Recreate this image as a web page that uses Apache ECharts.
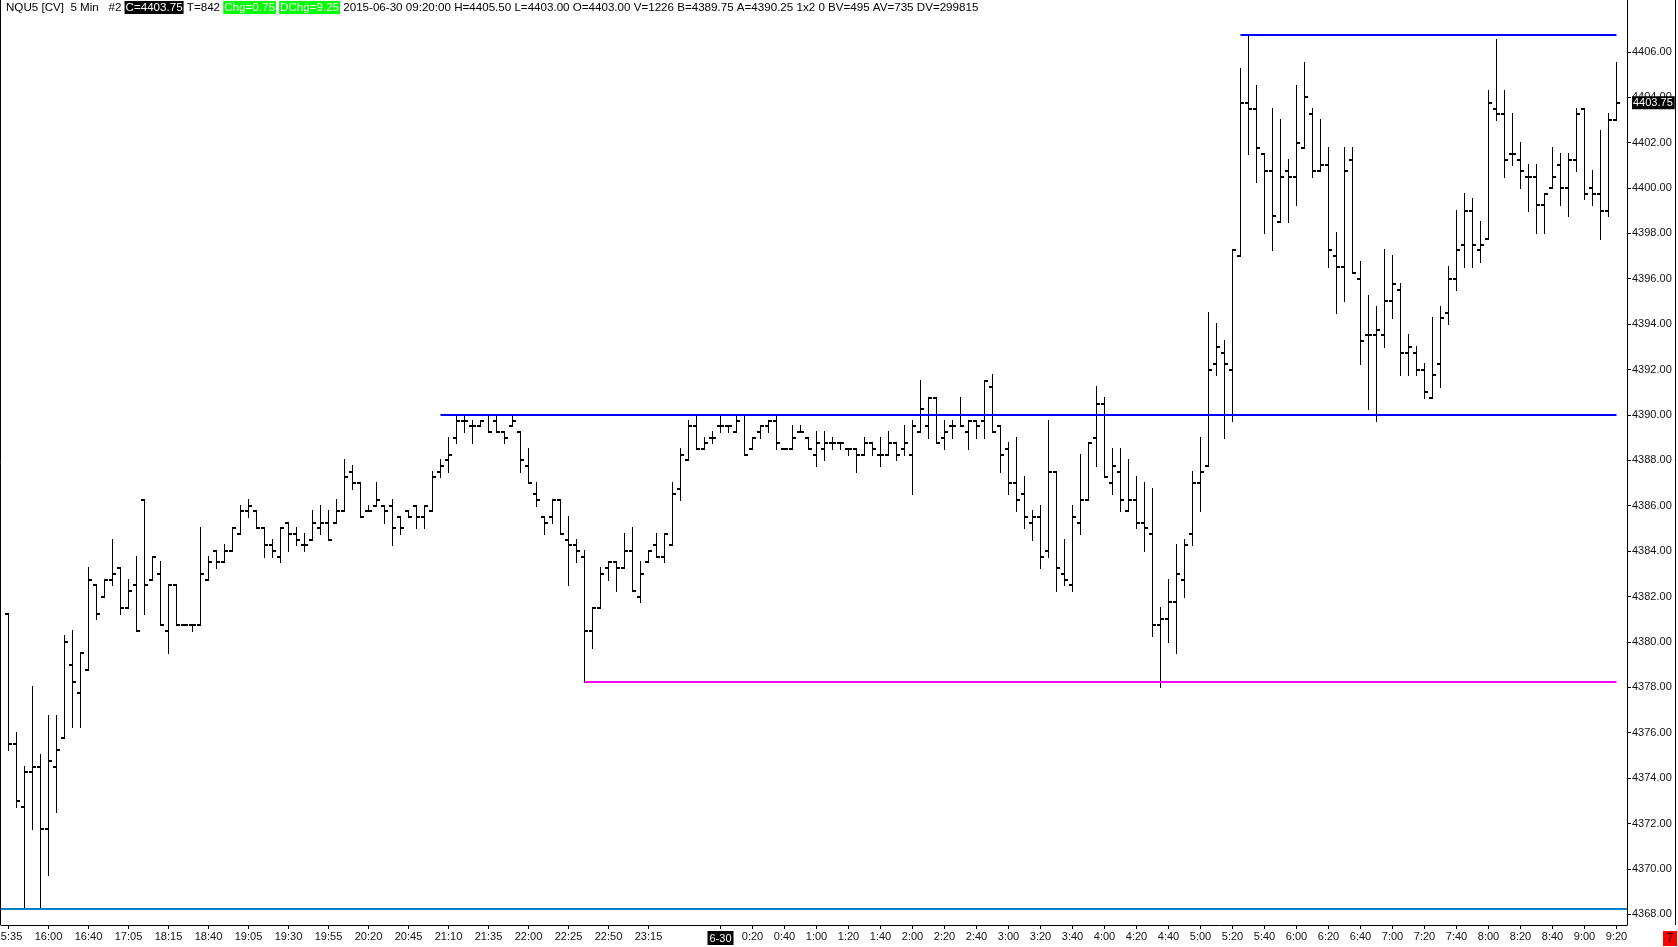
<!DOCTYPE html>
<html><head><meta charset="utf-8">
<script src="https://cdn.jsdelivr.net/npm/echarts@6/dist/echarts.min.js"></script>
<style>html,body{margin:0;padding:0;background:#fff;overflow:hidden}#c{width:1678px;height:947px}</style>
</head><body><div id="c"></div>
<script>
// ---- data (5-minute OHLC bars, NQU5) ----
const openP = [
4381.25,4375.5,4372.75,4374.25,4374.5,4371.75,4374.5,4375.75,4379.0,4377.75,
4378.75,4382.5,4382.0,4382.75,4383.25,4381.5,4382.5,4386.25,4382.75,4383.0,
4380.5,4382.5,4380.75,4380.75,4380.75,4382.75,4384.0,4383.5,4384.0,4384.75,
4385.75,4385.75,4385.0,4384.25,4383.75,4385.25,4384.75,4384.25,4384.5,4385.0,
4385.25,4385.25,4385.75,4387.5,4387.0,4385.75,4386.0,4386.0,4386.0,4385.5,
4385.75,4386.0,4385.5,4385.75,4387.5,4388.0,4389.0,4389.75,4389.5,4389.5,
4390.0,4389.75,4389.25,4389.5,4389.25,4387.75,4386.5,4385.5,4385.5,4386.25,
4384.5,4384.25,4383.75,4380.5,4381.5,4383.25,4383.5,4383.25,4384.0,4382.0,
4383.5,4384.25,4383.75,4384.25,4386.75,4388.0,4389.5,4388.5,4389.0,4389.5,
4389.5,4389.25,4390.0,4388.5,4389.25,4389.5,4389.75,4388.5,4388.5,4389.25,
4389.0,4388.25,4388.5,4388.75,4388.75,4388.5,4388.5,4388.25,4388.75,4388.25,
4388.25,4388.75,4388.5,4388.25,4389.25,4389.5,4390.75,4389.0,4389.5,4390.0,
4389.25,4389.75,4389.75,4391.25,4389.5,4388.5,4387.0,4386.5,4385.25,4385.5,
4384.0,4387.5,4383.0,4382.5,4385.25,4386.25,4389.0,4390.5,4387.0,4387.5,
4385.75,4386.25,4385.25,4384.75,4380.75,4381.0,4381.75,4382.75,4384.75,4387.0,
4387.75,4392.25,4392.75,4392.0,4397.0,4403.75,4403.5,4401.5,4400.75,4398.5,
4400.75,4400.5,4401.75,4403.25,4400.75,4401.0,4397.0,4396.5,4401.25,4396.0,
4393.5,4393.5,4393.5,4395.0,4395.5,4392.75,4392.75,4392.0,4390.75,4392.25,
4394.5,4396.0,4397.5,4399.0,4397.25,4397.75,4403.5,4403.25,4401.5,4401.25,
4400.5,4400.5,4399.25,4400.0,4401.0,4400.0,4401.25,4403.5,4400.0,4399.75,
4399.0,4403.0];
const highP = [
4381.25,4376.0,4374.5,4378.0,4375.0,4376.75,4376.75,4380.25,4380.5,4379.5,
4383.25,4382.5,4382.75,4384.5,4383.25,4382.75,4383.75,4386.25,4383.75,4383.5,
4382.5,4382.5,4380.75,4380.75,4385.0,4383.75,4384.0,4384.25,4385.0,4386.0,
4386.25,4385.75,4385.0,4384.5,4385.0,4385.25,4385.0,4384.75,4385.75,4386.0,
4385.75,4386.25,4388.0,4387.75,4387.0,4386.0,4387.0,4386.0,4386.25,4385.5,
4385.75,4386.0,4386.0,4387.5,4388.0,4389.0,4390.0,4390.0,4389.75,4389.75,
4390.0,4390.0,4389.25,4390.0,4389.25,4388.5,4387.0,4385.5,4386.25,4386.25,
4385.5,4384.5,4384.0,4381.5,4383.25,4383.5,4383.5,4384.75,4385.0,4383.5,
4384.0,4384.75,4384.75,4387.0,4388.5,4389.75,4390.0,4389.0,4389.25,4390.0,
4389.5,4390.0,4390.0,4389.0,4389.5,4389.75,4390.0,4388.5,4389.5,4389.5,
4389.0,4389.25,4389.25,4389.0,4388.75,4388.5,4388.5,4389.0,4388.75,4389.0,
4389.25,4388.75,4389.5,4389.75,4391.5,4390.75,4390.75,4389.75,4389.75,4390.75,
4389.75,4389.75,4391.5,4391.75,4389.5,4388.75,4389.0,4387.25,4385.75,4386.0,
4389.75,4387.5,4384.5,4386.0,4388.25,4388.75,4391.25,4390.75,4388.5,4388.5,
4388.0,4387.25,4387.0,4386.75,4381.5,4382.75,4384.25,4384.5,4387.5,4389.0,
4394.5,4394.0,4393.25,4397.25,4405.25,4406.75,4404.5,4401.5,4403.5,4403.0,
4401.25,4404.5,4405.5,4403.5,4403.0,4401.75,4398.0,4401.75,4401.75,4396.75,
4395.25,4394.75,4397.25,4397.0,4395.75,4393.5,4393.0,4392.25,4394.25,4394.75,
4396.5,4399.0,4399.75,4399.5,4398.5,4404.25,4406.5,4404.25,4403.25,4402.0,
4401.0,4401.0,4399.75,4401.75,4401.5,4401.5,4403.5,4403.5,4400.75,4402.5,
4403.25,4405.5];
const lowP = [
4375.25,4372.75,4368.25,4371.75,4368.25,4369.75,4372.5,4375.75,4376.25,4376.25,
4378.75,4381.0,4382.0,4382.5,4381.25,4381.5,4380.5,4381.25,4382.75,4380.75,
4379.5,4380.75,4380.75,4380.5,4380.75,4382.75,4383.25,4383.5,4384.0,4384.75,
4385.5,4385.0,4383.75,4383.75,4383.5,4384.0,4384.25,4384.0,4384.5,4384.75,
4384.5,4385.25,4385.75,4386.75,4385.5,4385.75,4386.0,4385.25,4384.25,4384.75,
4385.5,4385.0,4385.0,4385.75,4387.25,4387.5,4388.75,4389.25,4388.75,4389.5,
4389.25,4389.25,4388.75,4389.5,4387.5,4387.0,4386.0,4384.75,4385.25,4384.75,
4382.5,4383.5,4378.25,4379.75,4381.5,4382.75,4382.25,4383.25,4382.25,4381.75,
4383.5,4383.75,4383.5,4384.25,4386.25,4388.0,4388.5,4388.5,4388.75,4389.25,
4389.25,4389.25,4388.25,4388.5,4389.0,4389.25,4388.5,4388.5,4388.5,4389.25,
4388.5,4387.75,4388.0,4388.5,4388.5,4388.25,4387.5,4388.25,4388.25,4387.75,
4388.25,4388.0,4388.25,4386.5,4389.25,4389.0,4388.75,4388.5,4389.0,4389.5,
4388.5,4389.0,4389.0,4389.25,4387.5,4386.5,4385.75,4385.0,4384.5,4383.25,
4383.75,4382.25,4382.5,4382.25,4384.75,4386.25,4387.75,4387.25,4386.5,4385.75,
4385.75,4385.0,4384.0,4380.25,4378.0,4380.0,4379.5,4382.0,4384.25,4385.75,
4387.75,4391.75,4389.0,4389.75,4397.0,4401.5,4400.25,4398.0,4397.25,4398.5,
4398.5,4399.25,4401.75,4400.5,4400.75,4396.5,4394.5,4395.0,4396.25,4392.25,
4390.25,4389.75,4393.0,4394.25,4391.75,4391.75,4391.75,4390.75,4390.75,4391.25,
4394.0,4395.5,4396.5,4396.5,4396.75,4397.75,4403.0,4400.5,4401.0,4400.0,
4399.0,4398.0,4398.0,4400.0,4399.25,4398.75,4400.75,4399.5,4399.25,4397.75,
4398.75,4403.0];
const closeP = [
4375.5,4373.0,4374.25,4374.5,4371.75,4374.75,4375.25,4380.0,4378.25,4379.5,
4382.75,4381.25,4382.75,4383.0,4381.5,4382.25,4380.5,4382.5,4383.75,4380.75,
4382.5,4380.75,4380.75,4380.75,4383.0,4383.5,4383.5,4384.0,4385.0,4385.75,
4386.0,4385.0,4384.25,4384.0,4385.0,4384.75,4384.5,4384.25,4385.25,4385.25,
4384.5,4385.75,4387.25,4387.0,4385.5,4385.75,4386.25,4385.75,4385.0,4385.0,
4385.5,4385.5,4386.0,4387.25,4387.75,4388.25,4389.75,4389.75,4389.5,4389.75,
4389.25,4389.25,4389.0,4389.75,4388.0,4387.0,4386.25,4385.25,4386.25,4384.75,
4384.25,4384.0,4380.5,4381.5,4383.0,4383.5,4383.25,4384.0,4382.25,4383.0,
4384.0,4383.75,4384.75,4386.5,4388.25,4389.5,4388.5,4388.75,4389.0,4389.5,
4389.5,4389.75,4388.25,4389.0,4389.5,4389.75,4388.75,4388.5,4389.0,4389.25,
4388.5,4388.75,4388.75,4388.75,4388.75,4388.5,4388.25,4388.75,4388.5,4388.25,
4388.75,4388.25,4388.75,4389.5,4390.25,4390.75,4388.75,4389.25,4389.5,4389.5,
4389.75,4389.5,4391.5,4389.25,4388.25,4387.0,4386.25,4385.5,4385.5,4383.75,
4387.5,4383.25,4382.75,4385.5,4386.25,4388.75,4390.5,4387.25,4387.75,4386.25,
4386.25,4385.25,4385.0,4380.75,4381.0,4381.75,4383.0,4384.25,4387.0,4387.5,
4392.0,4393.0,4392.25,4397.25,4403.75,4403.5,4401.75,4400.75,4398.75,4400.5,
4400.5,4402.0,4404.0,4400.75,4401.0,4397.25,4396.5,4400.75,4396.25,4393.25,
4393.5,4393.75,4395.0,4395.75,4392.75,4393.0,4392.0,4391.0,4391.75,4394.25,
4396.0,4397.25,4399.0,4397.5,4397.5,4403.75,4403.25,4401.25,4401.5,4400.75,
4400.5,4399.25,4399.75,4400.5,4400.0,4401.25,4403.25,4399.75,4399.75,4399.0,
4403.0,4403.75];

// x-axis tick positions (bar index) and their labels
const xTickIndex = [0,5,10,15,20,25,30,35,40,45,50,55,60,65,70,75,80,89,
  93,97,101,105,109,113,117,121,125,129,133,137,141,145,149,153,157,161,165,169,173,177,181,185,189,193,197,201];
const xTickText = ['15:35','16:00','16:40','17:05','18:15','18:40','19:05','19:30','19:55','20:20','20:45','21:10','21:35','22:00','22:25','22:50','23:15','6-30',
  '0:20','0:40','1:00','1:20','1:40','2:00','2:20','2:40','3:00','3:20','3:40','4:00','4:20','4:40','5:00','5:20','5:40','6:00','6:20','6:40','7:00','7:20','7:40','8:00','8:20','8:40','9:00','9:20'];
const dateMarkerText = '6-30';
const yTicks = [4368,4370,4372,4374,4376,4378,4380,4382,4384,4386,4388,4390,4392,4394,4396,4398,4400,4402,4404,4406];

// drawn horizontal levels
const levelPrice = [4406.75, 4390.0, 4378.25];
const levelStart = [154, 54, 72];
const basePrice = 4368.25;

const headerParts = {
  name: 'NQU5 [CV]  5 Min   #2 ',
  c: 'C=4403.75',
  t: ' T=842 ',
  chg: 'Chg=0.75',
  dchg: 'DChg=9.25',
  rest: ' 2015-06-30 09:20:00 H=4405.50 L=4403.00 O=4403.00 V=1226 B=4389.75 A=4390.25 1x2 0 BV=495 AV=735 DV=299815'
};

const lastIdx = openP.length - 1;
const lastClose = closeP[lastIdx];
const FONT = 'Liberation Sans, Arial, sans-serif';
const HFS = 11.6;

const chart = echarts.init(document.getElementById('c'), null, {renderer: 'canvas'});
const data = openP.map((o, i) => [i, o, highP[i], lowP[i], closeP[i]]);

const lineColors = ['#0000ff', '#0000ff', '#ff00ff'];
const markData = levelPrice.map((p, k) => [
  {coord: [levelStart[k], p], lineStyle: {color: lineColors[k], width: 2, type: 'solid'}},
  {coord: [lastIdx, p]}
]);
markData.push({yAxis: basePrice, lineStyle: {color: '#0780c6', width: 2, type: 'solid'}});
markData.push({yAxis: lastClose, lineStyle: {color: 'rgba(0,0,0,0)', width: 1, type: 'solid'},
  label: {show: true, position: 'end', distance: 5, formatter: p => Number(p.value).toFixed(2),
    backgroundColor: '#000', color: '#fff', fontSize: 11, fontFamily: FONT, padding: [1, 2, 0, 1], lineHeight: 12}});

const rs = (extra) => Object.assign({fontSize: HFS, fontFamily: FONT, color: '#000'}, extra || {});

chart.setOption({
  animation: false,
  backgroundColor: '#fff',
  title: {
    left: 6, top: 1, padding: 0,
    text: '{n|' + headerParts.name + '}{k|' + headerParts.c + '}{n|' + headerParts.t + '}{g|' + headerParts.chg + '}{n| }{g|' + headerParts.dchg + '}{n|' + headerParts.rest + '}',
    textStyle: {
      fontSize: HFS, fontFamily: FONT, fontWeight: 'normal', color: '#000',
      rich: {
        n: rs(),
        k: rs({backgroundColor: '#000', color: '#fff', padding: [1, 1, 0, 1]}),
        g: rs({backgroundColor: '#00ff00', color: '#fff', padding: [1, 1, 0, 1]})
      }
    }
  },
  grid: {left: 1, right: 51, top: 0, bottom: 22, containLabel: false, outerBoundsMode: 'none'},
  xAxis: {
    type: 'value', min: -0.9375, max: 202.3125,
    axisLine: {show: true, onZero: false, lineStyle: {color: '#000', width: 1}},
    axisTick: {show: true, length: 4, customValues: xTickIndex, lineStyle: {color: '#000'}},
    splitLine: {show: false},
    axisLabel: {
      customValues: xTickIndex, margin: 6, fontSize: 11, fontFamily: FONT, color: '#111',
      formatter: v => {
        const t = xTickText[xTickIndex.indexOf(Math.round(v))];
        return t === dateMarkerText ? '{d|' + t + '}' : t;
      },
      rich: {d: {backgroundColor: '#000', color: '#fff', fontSize: 11, fontFamily: FONT, padding: [2, 2, 1, 2]}}
    }
  },
  yAxis: {
    type: 'value', position: 'right', min: 4367.53, max: 4408.28, scale: true,
    axisLine: {show: true, onZero: false, lineStyle: {color: '#000', width: 1}},
    axisTick: {show: true, length: 4, customValues: yTicks, lineStyle: {color: '#000'}},
    splitLine: {show: false},
    axisLabel: {customValues: yTicks, margin: 5, fontSize: 11, fontFamily: FONT, color: '#111',
      formatter: v => Number(v).toFixed(2)}
  },
  series: [{
    type: 'custom',
    data: data,
    encode: {x: 0, y: [1, 2, 3, 4]},
    clip: false,
    z: 3,
    renderItem: (params, api) => {
      const i = api.value(0);
      const pH = api.coord([i, api.value(2)]);
      const pL = api.coord([i, api.value(3)]);
      const pO = api.coord([i, api.value(1)]);
      const pC = api.coord([i, api.value(4)]);
      const x = Math.floor(pH[0]);
      const yH = Math.round(pH[1]);
      const yL = Math.round(pL[1]);
      const st = {fill: '#000'};
      return {type: 'group', children: [
        {type: 'rect', shape: {x: x, y: yH - 1, width: 1, height: Math.max(2, yL - yH + 2)}, style: st},
        {type: 'rect', shape: {x: x - 3, y: Math.round(pO[1]) - 1, width: 3, height: 2}, style: st},
        {type: 'rect', shape: {x: x + 1, y: Math.round(pC[1]) - 1, width: 3, height: 2}, style: st}
      ]};
    },
    markLine: {
      silent: true, symbol: ['none', 'none'], animation: false,
      label: {show: false},
      data: markData
    }
  }],
  graphic: [
    {type: 'line', shape: {x1: 0.5, y1: 0, x2: 0.5, y2: 925}, style: {stroke: '#000', lineWidth: 1}},
    {type: 'line', shape: {x1: 1675.5, y1: 0, x2: 1675.5, y2: 925}, style: {stroke: '#000', lineWidth: 1}},
    {type: 'rect', shape: {x: 1663, y: 931, width: 14, height: 15}, style: {fill: '#ff0000'}},
    {type: 'text', x: 1670, y: 938.5, style: {text: '7', fontSize: 12, fontFamily: FONT, fill: '#000', align: 'center', verticalAlign: 'middle'}}
  ]
});
</script></body></html>
